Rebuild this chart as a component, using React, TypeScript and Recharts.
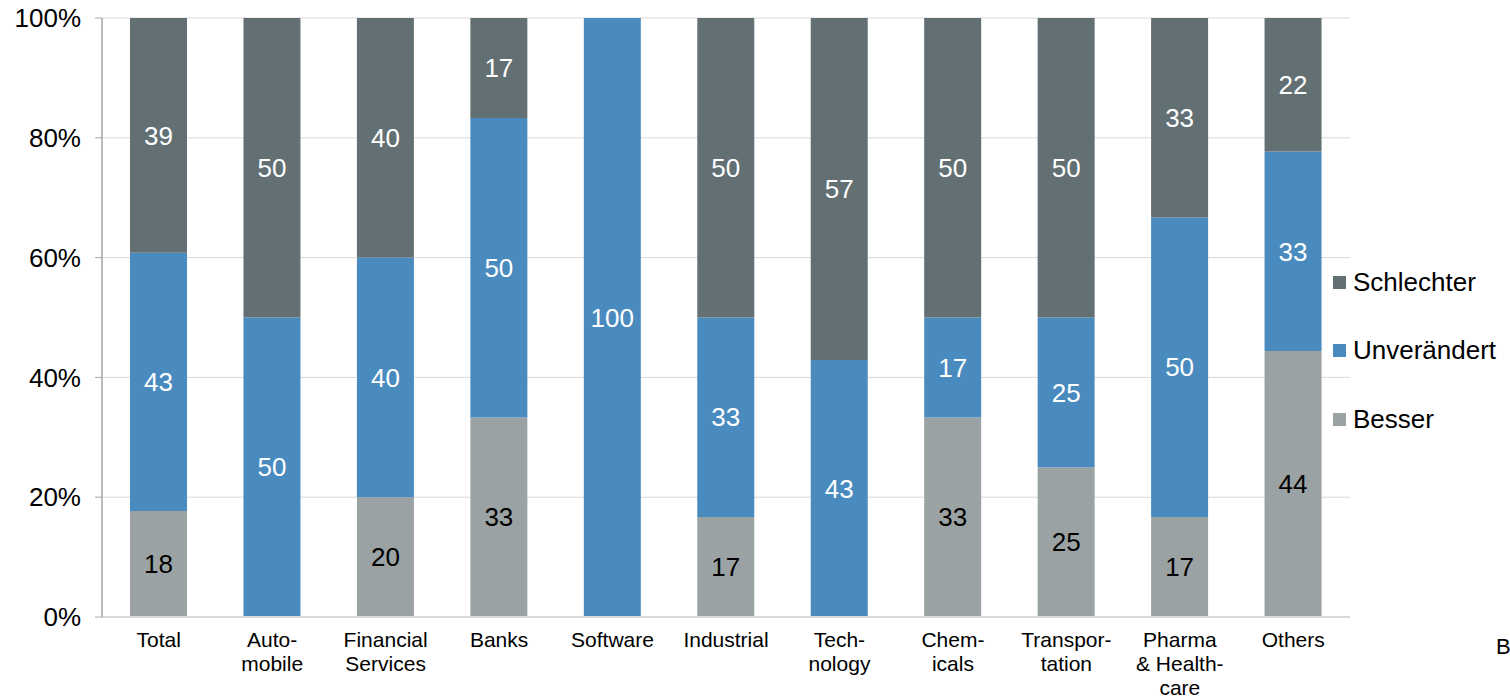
import React from 'react';
import { BarChart, Bar, XAxis, YAxis, CartesianGrid, Legend, LabelList } from 'recharts';

const categories = [
  'Total', 'Auto-\nmobile', 'Financial\nServices', 'Banks', 'Software', 'Industrial',
  'Tech-\nnology', 'Chem-\nicals', 'Transpor-\ntation', 'Pharma\n& Health-\ncare', 'Others',
];
const besser = [17.7, 0, 20, 33.3, 0, 16.7, 0, 33.3, 25, 16.7, 44.4];
const unveraendert = [43.1, 50, 40, 50, 100, 33.3, 42.9, 16.7, 25, 50, 33.3];
const schlechter = [39.2, 50, 40, 16.7, 0, 50, 57.1, 50, 50, 33.3, 22.3];
const yTicks = [0, 20, 40, 60, 80, 100];

const COLORS = { schlechter: '#637073', unveraendert: '#4A8BBF', besser: '#9BA2A3' };
const FONT = '"Liberation Sans", Arial, sans-serif';

const data = categories.map((name, i) => ({
  name,
  besser: besser[i],
  unveraendert: unveraendert[i],
  schlechter: schlechter[i],
}));

const fmt = (v: any) => (Number(v) > 0 ? Math.round(Number(v)) : '');

const CategoryTick = (props: any) => {
  const { x, y, payload } = props;
  const lines = String(payload.value).split('\n');
  return (
    <text x={x} y={y} textAnchor="middle" fill="#000" fontSize={21} fontFamily={FONT}>
      {lines.map((l, i) => (
        <tspan key={i} x={x} dy={i === 0 ? 22 : 24}>{l}</tspan>
      ))}
    </text>
  );
};

const legendItems = [
  { label: 'Schlechter', color: COLORS.schlechter },
  { label: 'Unverändert', color: COLORS.unveraendert },
  { label: 'Besser', color: COLORS.besser },
];

const LegendBox = () => (
  <div style={{ fontFamily: FONT, fontSize: 26, color: '#000', whiteSpace: 'nowrap' }}>
    {legendItems.map((it) => (
      <div key={it.label} style={{ display: 'flex', alignItems: 'center', height: 68.5 }}>
        <span style={{ width: 13, height: 13, background: it.color, marginRight: 7, display: 'inline-block', flexShrink: 0 }} />
        <span>{it.label}</span>
      </div>
    ))}
  </div>
);

export default function App() {
  return (
    <div style={{ position: 'absolute', left: 0, top: 0, width: 1510, height: 698, background: '#fff' }}>
      <BarChart
        width={1510}
        height={698}
        data={data}
        margin={{ top: 18, right: 0, bottom: 0, left: 0 }}
      >
        <CartesianGrid vertical={false} stroke="#D9D9D9" />
        <XAxis
          dataKey="name"
          height={81}
          tick={<CategoryTick />}
          tickLine={false}
          axisLine={{ stroke: '#D9D9D9', strokeWidth: 2 }}
          interval={0}
        />
        <YAxis
          width={102}
          domain={[0, 100]}
          ticks={yTicks}
          tickFormatter={(v) => `${v}%`}
          tick={{ fill: '#000', fontSize: 26, fontFamily: FONT }}
          tickSize={7}
          tickMargin={14}
          tickLine={{ stroke: '#A6A6A6' }}
          axisLine={{ stroke: '#A6A6A6', strokeWidth: 1.5 }}
        />
        <Legend
          layout="horizontal"
          align="right"
          verticalAlign="middle"
          content={<LegendBox />}
          wrapperStyle={{ left: 1333, top: 248, width: 160, right: 'auto', bottom: 'auto', overflow: 'visible' }}
        />
        <Bar dataKey="besser" stackId="a" fill={COLORS.besser} barSize={57} isAnimationActive={false}>
          <LabelList dataKey="besser" position="center" formatter={fmt} fill="#000" fontSize={26} fontFamily={FONT} />
        </Bar>
        <Bar dataKey="unveraendert" stackId="a" fill={COLORS.unveraendert} barSize={57} isAnimationActive={false}>
          <LabelList dataKey="unveraendert" position="center" formatter={fmt} fill="#fff" fontSize={26} fontFamily={FONT} />
        </Bar>
        <Bar dataKey="schlechter" stackId="a" fill={COLORS.schlechter} barSize={57} isAnimationActive={false}>
          <LabelList dataKey="schlechter" position="center" formatter={fmt} fill="#fff" fontSize={26} fontFamily={FONT} />
        </Bar>
      </BarChart>
      <div style={{ position: 'absolute', left: 1496, top: 634, fontFamily: FONT, fontSize: 22, color: '#000' }}>B</div>
    </div>
  );
}
